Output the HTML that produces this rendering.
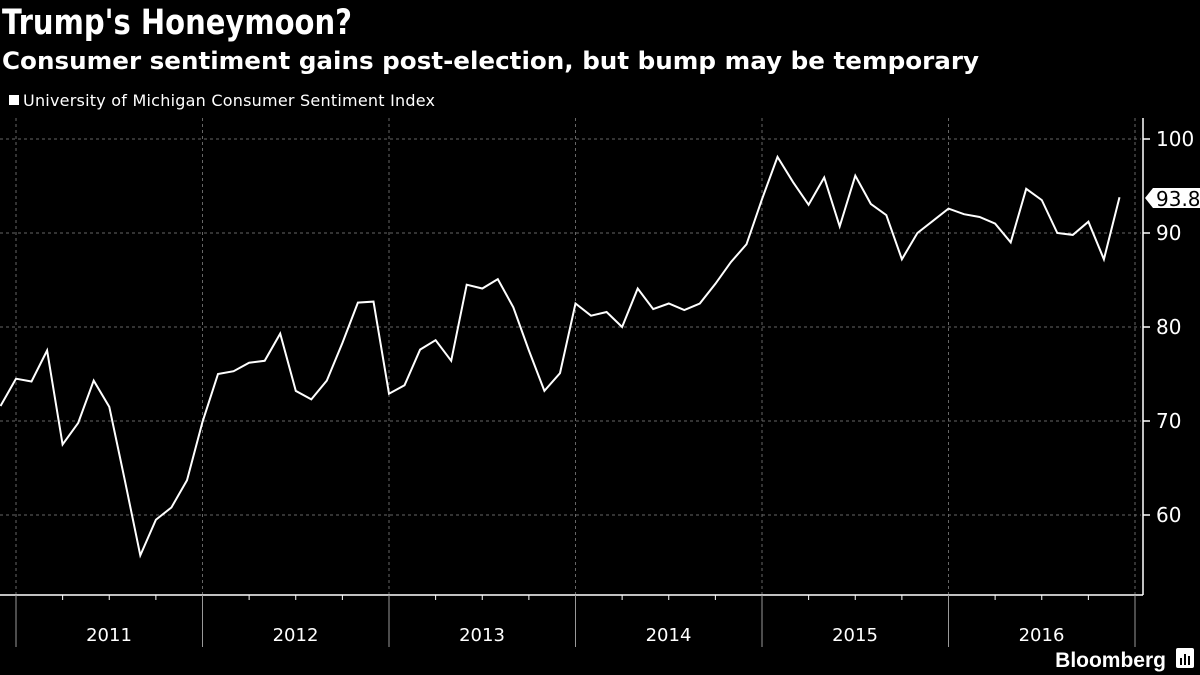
<!DOCTYPE html>
<html><head><meta charset="utf-8"><style>
body{margin:0;background:#000;width:1200px;height:675px;overflow:hidden;font-family:"Liberation Sans",sans-serif;color:#fff}
</style></head><body>
<svg width="1200" height="675" xmlns="http://www.w3.org/2000/svg" style="position:absolute;left:0;top:0">
<text x="2" y="34" font-size="35" font-weight="bold" fill="#fff" font-family="DejaVu Sans, sans-serif" textLength="350" lengthAdjust="spacingAndGlyphs">Trump's Honeymoon?</text>
<text x="2" y="69" font-size="24" font-weight="bold" fill="#fff" font-family="DejaVu Sans, sans-serif" textLength="977" lengthAdjust="spacingAndGlyphs">Consumer sentiment gains post-election, but bump may be temporary</text>
<rect x="9" y="95" width="10" height="10" fill="#fff"/>
<text x="23" y="106" font-size="16" fill="#fff" font-family="DejaVu Sans, sans-serif" textLength="412">University of Michigan Consumer Sentiment Index</text>
<g id="grid" stroke="#666" stroke-dasharray="3,3" stroke-width="1"></g>
<line x1="1143" y1="118" x2="1143" y2="595" stroke="#fff" stroke-width="1.5"/>
<line x1="0" y1="595" x2="1143" y2="595" stroke="#fff" stroke-width="1.5"/>
<g id="ax"></g>
<polyline id="ln" fill="none" stroke="#fff" stroke-width="2" stroke-linejoin="miter"/>
<polygon points="1145,198 1153,188 1200,188 1200,208 1153,208" fill="#fff"/>
<text x="1156" y="206" font-size="20" fill="#000" font-family="DejaVu Sans, sans-serif">93.8</text>
<text x="1166" y="667" font-size="21" font-weight="bold" fill="#fff" text-anchor="end" font-family="Liberation Sans, sans-serif">Bloomberg</text>
<rect x="1176" y="648" width="18" height="20" rx="2" fill="#fff"/>
<rect x="1180" y="658" width="2" height="7" fill="#000"/><rect x="1184" y="654" width="2" height="11" fill="#000"/><rect x="1188" y="656" width="2" height="9" fill="#000"/>
</svg>
<script>
var d=[71.6,74.5,74.2,77.5,67.5,69.8,74.3,71.5,63.7,55.7,59.5,60.8,63.7,69.9,75.0,75.3,76.2,76.4,79.3,73.2,72.3,74.3,78.3,82.6,82.7,72.9,73.8,77.6,78.6,76.4,84.5,84.1,85.1,82.1,77.5,73.2,75.1,82.5,81.2,81.6,80.0,84.1,81.9,82.5,81.8,82.5,84.6,86.9,88.8,93.6,98.1,95.4,93.0,95.9,90.7,96.1,93.1,91.9,87.2,90.0,91.3,92.6,92.0,91.7,91.0,89.0,94.7,93.5,90.0,89.8,91.2,87.2,93.8];
var M=186.5/12,X=function(i){return 16+(i-1)*M},Y=function(v){return 139+(100-v)*9.4};
document.getElementById('ln').setAttribute('points',d.map(function(v,i){return X(i).toFixed(1)+','+Y(v).toFixed(1)}).join(' '));
var ns='http://www.w3.org/2000/svg',g=document.getElementById('grid'),a=document.getElementById('ax');
function el(p,t,o){var e=document.createElementNS(ns,t);for(var k in o)e.setAttribute(k,o[k]);p.appendChild(e);return e}
[100,90,80,70,60].forEach(function(v){var y=Y(v);el(g,'line',{x1:0,x2:1141,y1:y,y2:y});
el(a,'line',{x1:1143,x2:1150,y1:y,y2:y,stroke:'#fff','stroke-width':1.5});
var t=el(a,'text',{x:1156,y:y+7,'font-size':20,fill:'#fff','font-family':'DejaVu Sans, sans-serif'});t.textContent=v;});
for(var k=0;k<7;k++){var x=16+k*186.5;el(g,'line',{x1:x,x2:x,y1:118,y2:594});
el(a,'line',{x1:x,x2:x,y1:595,y2:647,stroke:'#999','stroke-width':1});
if(k<6){for(var q=1;q<4;q++){var qx=x+q*186.5/4;el(a,'line',{x1:qx,x2:qx,y1:595,y2:600,stroke:'#fff','stroke-width':1});}
var t=el(a,'text',{x:x+93,y:641,'font-size':18,fill:'#fff','text-anchor':'middle','font-family':'DejaVu Sans, sans-serif'});t.textContent=2011+k;}}
</script>
</body></html>
